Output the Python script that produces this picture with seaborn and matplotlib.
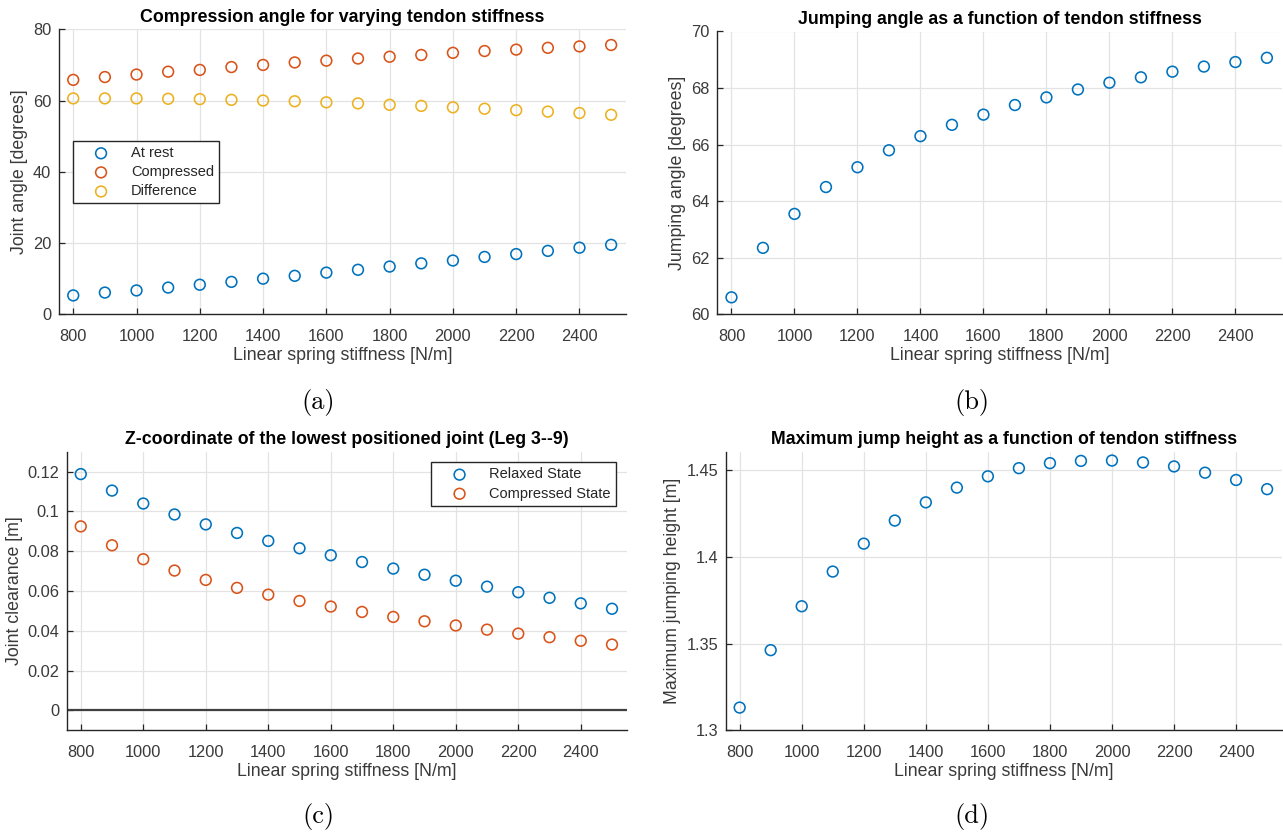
import numpy as np
import pandas as pd
import matplotlib
matplotlib.use("Agg")
import matplotlib.pyplot as plt
from matplotlib.ticker import FixedLocator, FormatStrFormatter
import seaborn as sns

# ---- data ---------------------------------------------------------------
stiffness = [800, 900, 1000, 1100, 1200, 1300, 1400, 1500, 1600,
             1700, 1800, 1900, 2000, 2100, 2200, 2300, 2400, 2500]

angle_rest = [5.3, 6.1, 6.7, 7.5, 8.3, 9.1, 10.0, 10.8, 11.7,
              12.5, 13.4, 14.3, 15.1, 16.1, 16.9, 17.8, 18.7, 19.5]
angle_compressed = [65.8, 66.6, 67.3, 68.1, 68.6, 69.4, 70.0, 70.7, 71.2,
                    71.8, 72.3, 72.8, 73.4, 73.9, 74.3, 74.8, 75.2, 75.6]
angle_difference = [60.6, 60.6, 60.6, 60.5, 60.4, 60.2, 60.0, 59.8, 59.5,
                    59.2, 58.8, 58.5, 58.1, 57.7, 57.3, 56.9, 56.5, 56.0]

jump_angle = [60.6, 62.35, 63.55, 64.5, 65.2, 65.8, 66.3, 66.7, 67.06,
              67.4, 67.67, 67.95, 68.19, 68.38, 68.58, 68.76, 68.92, 69.07]

clearance_relaxed = [0.1188, 0.1105, 0.1040, 0.0985, 0.0935, 0.0892, 0.0852, 0.0815, 0.0780,
                     0.0746, 0.0713, 0.0682, 0.0652, 0.0622, 0.0594, 0.0566, 0.0538, 0.0511]
clearance_compressed = [0.0925, 0.0830, 0.0760, 0.0703, 0.0656, 0.0616, 0.0582, 0.0550, 0.0522,
                        0.0495, 0.0470, 0.0448, 0.0427, 0.0406, 0.0386, 0.0368, 0.0350, 0.0331]

jump_height = [1.3131, 1.3462, 1.3715, 1.3915, 1.4076, 1.4209, 1.4314, 1.4399, 1.4464,
               1.4511, 1.4540, 1.4553, 1.4555, 1.4544, 1.4521, 1.4485, 1.4443, 1.4390]

x_ticks = [800, 1000, 1200, 1400, 1600, 1800, 2000, 2200, 2400]

# ---- style --------------------------------------------------------------
sns.set_theme(style="white")
plt.rcParams["font.family"] = ["Liberation Sans", "DejaVu Sans"]

BLUE = "#0072BD"
ORANGE = "#D95319"
YELLOW = "#EDB120"
AXCOL = "#262626"
TICKCOL = "#3a3a3a"
GRIDCOL = "#e3e3e3"

W, H = 1283, 836
fig = plt.figure(figsize=(W / 100, H / 100), dpi=100)


def add_axes(l, t, r, b):
    return fig.add_axes([l / W, 1 - b / H, (r - l) / W, (b - t) / H])


ax_a = add_axes(59, 29.3, 626, 314.3)
ax_b = add_axes(717.3, 31.5, 1281.7, 314.3)
ax_c = add_axes(66.7, 451.8, 626.7, 730.3)
ax_d = add_axes(725.7, 451.7, 1281.7, 730.3)

xlim = (755, 2547)


def scatter(ax, y, color, label=None):
    sns.scatterplot(x=stiffness, y=y, ax=ax, marker="o", s=60,
                    facecolor="none", edgecolor=color, linewidth=1.15,
                    label=label, legend=False, zorder=3)


def style(ax, title, ylabel, yticks, ylim, ylab_x, xlab_y):
    ax.set_xlim(*xlim)
    ax.set_ylim(*ylim)
    ax.xaxis.set_major_locator(FixedLocator(x_ticks))
    ax.yaxis.set_major_locator(FixedLocator(yticks))
    ax.yaxis.set_major_formatter(FormatStrFormatter("%g"))
    ax.grid(True, color=GRIDCOL, linewidth=0.9, zorder=0)
    ax.set_axisbelow(True)
    for side in ("top", "right"):
        ax.spines[side].set_visible(False)
    for side in ("left", "bottom"):
        ax.spines[side].set_color(AXCOL)
        ax.spines[side].set_linewidth(1.0)
    ax.tick_params(direction="in", length=4, width=0.9, color=AXCOL,
                   labelsize=11.8, labelcolor=TICKCOL,
                   left=True, bottom=True)
    ax.tick_params(axis="x", pad=10.5)
    ax.tick_params(axis="y", pad=5.5)
    ax.set_title(title, fontsize=12.8, fontweight="bold", color="black", pad=5.5)
    ax.set_xlabel("Linear spring stiffness [N/m]", fontsize=12.8, color=TICKCOL)
    ax.set_ylabel(ylabel, fontsize=12.8, color=TICKCOL)
    ax.xaxis.set_label_coords(0.5, xlab_y)
    ax.yaxis.set_label_coords(ylab_x, 0.5)


# (a) compression angle
scatter(ax_a, angle_rest, BLUE, "At rest")
scatter(ax_a, angle_compressed, ORANGE, "Compressed")
scatter(ax_a, angle_difference, YELLOW, "Difference")
style(ax_a, "Compression angle for varying tendon stiffness",
      "Joint angle [degrees]", [0, 20, 40, 60, 80], (0, 80), -0.054, -0.116)

# (b) jumping angle
scatter(ax_b, jump_angle, BLUE)
style(ax_b, "Jumping angle as a function of tendon stiffness",
      "Jumping angle [degrees]", [60, 62, 64, 66, 68, 70], (60, 70), -0.055, -0.116)

# (c) joint clearance
ax_c.axhline(0, color="#404040", linewidth=1.6, zorder=2)
scatter(ax_c, clearance_relaxed, BLUE, "Relaxed State")
scatter(ax_c, clearance_compressed, ORANGE, "Compressed State")
style(ax_c, "Z-coordinate of the lowest positioned joint (Leg 3--9)",
      "Joint clearance [m]", [0, 0.02, 0.04, 0.06, 0.08, 0.1, 0.12],
      (-0.01, 0.13), -0.078, -0.119)

# (d) maximum jump height
scatter(ax_d, jump_height, BLUE)
style(ax_d, "Maximum jump height as a function of tendon stiffness",
      "Maximum jumping height [m]", [1.3, 1.35, 1.4, 1.45], (1.3, 1.4606), -0.080, -0.119)


def legend(ax, loc, anchor):
    leg = ax.legend(loc=loc, bbox_to_anchor=anchor, fontsize=10.5,
                    frameon=True, fancybox=False, framealpha=1,
                    edgecolor="#262626", borderpad=0.35, labelspacing=0.35,
                    handlelength=3.2, handletextpad=0.45, borderaxespad=0)
    leg.get_frame().set_linewidth(1.0)
    for t in leg.get_texts():
        t.set_color(AXCOL)
    return leg


legend(ax_a, "upper left", (0.024, 0.608))
legend(ax_c, "upper right", (0.981, 0.962))

# sub-figure captions
cap = dict(fontsize=19, family="cmr10", ha="center", va="center", color="black")
fig.text(318 / W, 1 - 402 / H, "(a)", **cap)
fig.text(972 / W, 1 - 402 / H, "(b)", **cap)
fig.text(318 / W, 1 - 817 / H, "(c)", **cap)
fig.text(972 / W, 1 - 817 / H, "(d)", **cap)

fig.savefig("out.png", dpi=100)
